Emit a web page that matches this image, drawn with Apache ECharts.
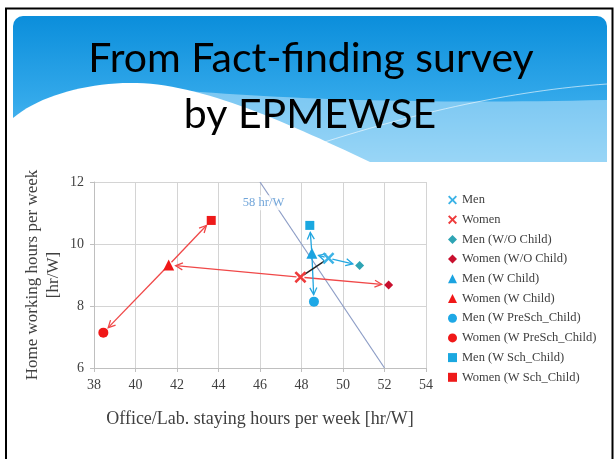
<!DOCTYPE html>
<html>
<head>
<meta charset="utf-8">
<script src="https://cdn.jsdelivr.net/npm/echarts@6/dist/echarts.min.js"></script>
<style>
html, body { margin: 0; padding: 0; background: #fff; }
#main { width: 614px; height: 459px; }
</style>
</head>
<body>
<div id="main"></div>
<script>
// data
var names = ['Men', 'Women', 'Men (W/O Child)', 'Women (W/O Child)', 'Men (W Child)', 'Women (W Child)',
             'Men (W PreSch_Child)', 'Women (W PreSch_Child)', 'Men (W Sch_Child)', 'Women (W Sch_Child)'];
var officeHours = [49.3, 47.95, 50.8, 52.2, 48.5, 41.6, 48.6, 38.45, 48.4, 43.65];
var homeHours = [9.54, 8.93, 9.31, 8.68, 9.7, 9.32, 8.14, 7.14, 10.6, 10.76];
// arrows between groups: [from, to]
var arrowPairs = [[1, 5], [1, 3], [5, 9], [5, 7], [4, 8], [4, 6], [0, 4], [0, 2]];
var genderLink = [1, 0];
// 58 hr/W reference line
var limitX = [46, 52];
var limitY = [12, 6];
var limitLabel = '58 hr/W';
var limitLabelAt = [46.17, 11.33];

var crossPath = 'path://M1.5,0 L5,3.5 L8.5,0 L10,1.5 L6.5,5 L10,8.5 L8.5,10 L5,6.5 L1.5,10 L0,8.5 L3.5,5 L0,1.5 Z';
var colors = ['#3cb3e6', '#ee3b3b', '#2ea4b4', '#c8102e', '#1ba3e0', '#f01818',
              '#1ea8e6', '#f01818', '#1ba8e0', '#ee1a1a'];
var symbols = [crossPath, crossPath, 'diamond', 'diamond', 'triangle', 'triangle',
               'circle', 'circle', 'rect', 'rect'];
var sizes = [12, 12, 9, 9, 11, 11, 10, 10, 9, 9];

var serif = 'Liberation Serif';
var myChart = echarts.init(document.getElementById('main'));

// header wave outlines, sampled from cubic curves
function bez(p0, p1, p2, p3, n) {
    var pts = [];
    for (var i = 0; i <= n; i++) {
        var t = i / n, u = 1 - t;
        pts.push([u*u*u*p0[0] + 3*u*u*t*p1[0] + 3*u*t*t*p2[0] + t*t*t*p3[0],
                  u*u*u*p0[1] + 3*u*u*t*p1[1] + 3*u*t*t*p2[1] + t*t*t*p3[1]]);
    }
    return pts;
}
var whiteWave = bez([13, 118], [40, 95], [90, 82], [137, 83], 20)
    .concat(bez([137, 83], [205, 85], [285, 122], [370, 162], 30))
    .concat([[13, 162]]);
var lightWave = bez([175, 90], [300, 100], [430, 104], [607, 100], 30)
    .concat([[607, 162], [175, 162]]);
var thinArc = bez([300, 150], [420, 110], [520, 90], [607, 84], 30);

var linkData = arrowPairs.map(function (p) {
    return [officeHours[p[0]], homeHours[p[0]], officeHours[p[1]], homeHours[p[1]], p[0] % 2];
});
linkData.push([officeHours[genderLink[0]], homeHours[genderLink[0]],
               officeHours[genderLink[1]], homeHours[genderLink[1]], 2]);

var series = [];
series.push({
    type: 'line',
    data: [[limitX[0], limitY[0]], [limitX[1], limitY[1]]],
    symbol: 'none',
    silent: true,
    lineStyle: { color: '#8d9dc6', width: 1.2 },
    z: 1
});
series.push({
    type: 'scatter',
    data: [limitLabelAt],
    symbolSize: 0,
    silent: true,
    label: {
        show: true, position: 'inside', formatter: limitLabel,
        fontFamily: serif, fontSize: 12.5, color: '#4d8fd0',
        backgroundColor: '#fff', padding: [1, 1]
    },
    z: 2
});
series.push({
    type: 'custom',
    data: linkData,
    silent: true,
    z: 3,
    renderItem: function (params, api) {
        var a = api.coord([api.value(0), api.value(1)]);
        var b = api.coord([api.value(2), api.value(3)]);
        var kind = api.value(4);
        var dx = b[0] - a[0], dy = b[1] - a[1];
        var len = Math.sqrt(dx * dx + dy * dy);
        var ux = dx / len, uy = dy / len;
        var color = kind === 0 ? '#22a6e0' : (kind === 1 ? '#f04848' : '#222');
        var s = [a[0] + ux * 4, a[1] + uy * 4];
        var cut = kind === 2 ? 5 : 7;
        var e = [b[0] - ux * cut, b[1] - uy * cut];
        var children = [{
            type: 'line',
            shape: { x1: s[0], y1: s[1], x2: e[0], y2: e[1] },
            style: { stroke: color, lineWidth: kind === 2 ? 1.5 : 1.3 }
        }];
        if (kind !== 2) {
            var h = 7, w = 3.5;
            children.push({
                type: 'polyline',
                shape: { points: [[e[0] - ux * h - uy * w, e[1] - uy * h + ux * w], e,
                                  [e[0] - ux * h + uy * w, e[1] - uy * h - ux * w]] },
                style: { stroke: color, lineWidth: 1.3, fill: null }
            });
        }
        return { type: 'group', children: children };
    }
});
names.forEach(function (n, i) {
    series.push({
        name: n,
        type: 'scatter',
        data: [[officeHours[i], homeHours[i]]],
        symbol: symbols[i],
        symbolSize: sizes[i],
        itemStyle: { color: colors[i], opacity: 1 },
        z: 5
    });
});

var option = {
    backgroundColor: '#fff',
    animation: false,
    graphic: [
        // slide frame
        { type: 'rect', shape: { x: 6, y: 8.5, width: 606.5, height: 460 },
          style: { fill: 'none', stroke: '#000', lineWidth: 2 }, z: -10 },
        // header band
        { type: 'rect', shape: { x: 13, y: 16, width: 594, height: 146, r: [10, 10, 0, 0] },
          style: { fill: new echarts.graphic.LinearGradient(0, 0, 0, 1, [
              { offset: 0, color: '#0b8edb' }, { offset: 0.6, color: '#35aaeb' }, { offset: 1, color: '#6cc4f2' }]) },
          z: -9 },
        { type: 'polygon', shape: { points: lightWave },
          style: { fill: 'rgba(190,228,250,0.55)' }, z: -8 },
        { type: 'polyline', shape: { points: thinArc },
          style: { stroke: 'rgba(255,255,255,0.6)', lineWidth: 1, fill: null }, z: -8 },
        { type: 'polygon', shape: { points: whiteWave },
          style: { fill: '#fff' }, z: -7 },
        { type: 'text', x: 311, y: 59,
          style: { text: 'From Fact-finding survey', font: '41px Lato', fill: '#000',
                   align: 'center', verticalAlign: 'middle' }, z: 10 },
        { type: 'text', x: 310, y: 115,
          style: { text: 'by EPMEWSE', font: '41px Lato', fill: '#000',
                   align: 'center', verticalAlign: 'middle' }, z: 10 }
    ],
    legend: {
        data: names,
        orient: 'vertical',
        left: 443,
        top: 188,
        itemWidth: 9,
        itemHeight: 9,
        itemGap: 5.7,
        textStyle: { fontFamily: serif, fontSize: 12.5, color: '#404040', lineHeight: 14 }
    },
    grid: { left: 94, right: 188, top: 182, bottom: 91 },
    xAxis: {
        type: 'value', min: 38, max: 54, interval: 2,
        name: 'Office/Lab. staying hours per week [hr/W]',
        nameLocation: 'middle', nameGap: 42, nameMoveOverlap: false,
        nameTextStyle: { fontFamily: serif, fontSize: 18, color: '#404040' },
        axisLine: { show: true, lineStyle: { color: '#bfbfbf' } },
        axisTick: { show: true, length: 4, lineStyle: { color: '#bfbfbf' } },
        axisLabel: { fontFamily: serif, fontSize: 14, color: '#404040', margin: 10 },
        splitLine: { show: true, lineStyle: { color: '#d4d4d4' } }
    },
    yAxis: {
        type: 'value', min: 6, max: 12, interval: 2,
        name: 'Home working hours per week\n[hr/W]',
        nameLocation: 'middle', nameGap: 30, nameRotate: 90, nameMoveOverlap: false,
        nameTextStyle: { fontFamily: serif, fontSize: 17, color: '#404040', lineHeight: 21 },
        axisLine: { show: true, lineStyle: { color: '#bfbfbf' } },
        axisTick: { show: true, length: 4, lineStyle: { color: '#bfbfbf' } },
        axisLabel: { fontFamily: serif, fontSize: 14, color: '#404040', margin: 10 },
        splitLine: { show: true, lineStyle: { color: '#d4d4d4' } }
    },
    series: series
};
myChart.setOption(option);
</script>
</body>
</html>
